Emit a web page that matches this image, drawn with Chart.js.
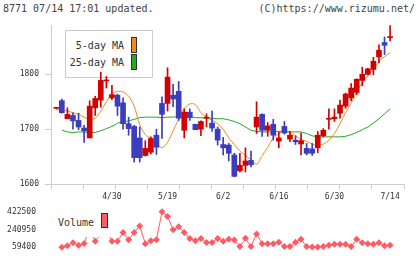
<!DOCTYPE html>
<html><head><meta charset="utf-8">
<script src="https://cdn.jsdelivr.net/npm/chart.js@4/dist/chart.umd.min.js"></script>
<style>
body{margin:0;background:#fff;width:420px;height:259px;overflow:hidden;position:relative;font-family:"DejaVu Sans Mono",monospace;color:#444}
.t{position:absolute;font-size:10px;line-height:12px;white-space:pre}
canvas{position:absolute;left:0}
</style></head><body>
<div class="t" style="left:3px;top:3px">8771 07/14 17:01 updated.</div>
<div class="t" style="right:5px;top:3px">(C)https://www.rizumu.net/</div>
<div style="position:absolute;left:65px;top:30px;width:86px;height:46px;border:1px solid #ccc;background:#fff"></div>
<div class="t" style="right:296px;top:40px;color:#333">5-day MA</div>
<div class="t" style="right:296px;top:57px;color:#333">25-day MA</div>
<div style="position:absolute;left:131px;top:37px;width:4px;height:14px;border:1px solid #333;background:#f08c1a"></div>
<div style="position:absolute;left:131px;top:54px;width:4px;height:14px;border:1px solid #333;background:#22aa22"></div>
<canvas id="main" width="420" height="205" style="top:0;z-index:1"></canvas>
<canvas id="vol" width="420" height="59" style="top:200px;z-index:1"></canvas>
<div style="position:absolute;left:55px;top:206px;width:57px;height:31px;background:#fff;z-index:2"></div>
<div class="t" style="left:58px;top:217px;color:#333;z-index:3">Volume</div>
<div style="position:absolute;left:101px;top:213px;width:5px;height:13px;border:1px solid #333;background:#ff5b63;z-index:3"></div>
<script>
const dates=['4/15','4/16','4/17','4/18','4/21','4/22','4/23','4/24','4/25','4/28',
'4/30','5/1','5/7','5/8','5/9','5/12','5/13','5/14','5/15','5/16',
'5/19','5/20','5/21','5/22','5/23','5/26','5/27','5/28','5/29','5/30',
'6/2','6/3','6/4','6/5','6/6','6/9','6/10','6/11','6/12','6/13',
'6/16','6/17','6/18','6/19','6/20','6/23','6/24','6/25','6/26','6/27',
'6/30','7/1','7/2','7/3','7/4','7/7','7/8','7/9','7/10','7/11','7/14'];
const xLabels=['4/30','5/19','6/2','6/16','6/30','7/14'];
const priceTicks=[1600,1700,1800];
const volTicks=[59400,240950,422500];

const open=[1738,1752,1719,1725,1716,1702,1684,1739,1753,1788,
1757,1762,1748,1710,1705,1684,1652,1658,1689,1747,
1747,1762,1769,1698,1731,1709,1700,1720,1711,1700,
1672,1671,1653,1624,1634,1643,1704,1727,1698,1709,
1678,1705,1682,1680,1673,1665,1664,1666,1688,1718,
1719,1729,1742,1757,1767,1789,1800,1809,1832,1858,1867];
const high=[1739,1755,1739,1730,1729,1707,1752,1760,1804,1796,
1780,1764,1757,1722,1707,1704,1679,1686,1700,1759,
1812,1782,1787,1737,1737,1709,1715,1728,1733,1704,
1685,1674,1656,1656,1666,1660,1750,1728,1712,1718,
1695,1714,1696,1688,1693,1674,1674,1696,1701,1737,
1737,1753,1766,1783,1792,1813,1811,1831,1854,1868,1889];
const low=[1737,1729,1719,1700,1699,1676,1684,1725,1740,1775,
1754,1725,1700,1689,1640,1640,1651,1655,1654,1683,
1733,1741,1716,1684,1716,1699,1688,1704,1696,1671,
1653,1642,1613,1622,1622,1631,1692,1687,1687,1680,
1666,1691,1677,1672,1653,1653,1652,1657,1686,1700,
1714,1720,1738,1752,1763,1779,1799,1799,1821,1836,1861];
const close=[1738,1730,1727,1715,1704,1697,1742,1756,1789,1788,
1763,1742,1710,1701,1648,1648,1665,1683,1667,1727,
1795,1755,1720,1731,1721,1699,1714,1722,1702,1680,
1666,1656,1614,1634,1642,1635,1722,1698,1706,1689,
1684,1693,1689,1677,1679,1656,1656,1689,1698,1719,
1722,1744,1764,1775,1791,1800,1810,1824,1844,1853,1868];
const ma5=[1736,1735,1733,1730,1727,1722,1718,1720,1733,1750,
1764,1769,1768,1760,1742,1708,1690,1683,1674,1666,
1676,1697,1718,1738,1746,1745,1730,1722,1716,1710,
1700,1684,1672,1660,1652,1644,1636,1652,1667,1684,
1692,1696,1693,1688,1681,1678,1673,1670,1673,1680,
1692,1710,1730,1748,1768,1785,1797,1810,1824,1832,1840];
const ma25=[null,1698,1695,1694,1695,1695,1694,1694,1697,1701,
1705,1711,1713,1715,1718,1721,1722,1722,1722,1721,
1722,1722,1723,1723,1723,1721,1721,1720,1720,1719,
1719,1717,1714,1710,1704,1698,1696,1695,1695,1695,
1696,1696,1695,1695,1695,1692,1688,1686,1686,1686,
1686,1686,1687,1690,1694,1699,1704,1711,1719,1728,1737];
const volume=[null,59400,74800,104800,80300,98400,250000,120200,195000,243000,
120200,120200,211000,134700,211000,277300,95700,125700,134700,422500,
374400,238200,268200,211000,147400,125700,147400,107500,107500,147400,
120200,141100,132000,65700,150200,65700,195600,95700,95700,95700,
111100,65700,65700,111100,141100,65700,60500,60500,65700,80300,
89400,89400,89400,65700,141100,104800,95700,89400,104800,74800,80300];

const RED='#d40000',BLUE='#3c3cbe',ORANGE='#f08c1a',GREEN='#22aa22',VOL='#ff5b63';
const FONT={family:'DejaVu Sans Mono',size:8};
const colors=close.map((c,i)=>c>=open[i]?RED:BLUE);
const pts=a=>a.map((v,i)=>({x:i,y:v}));
const xMin=-0.95,xMax=62.5;

new Chart(document.getElementById('main'),{
  data:{datasets:[
    {type:'line',xAxisID:'x',data:pts(ma25),borderColor:GREEN,borderWidth:1,pointRadius:0,order:4},
    {type:'line',xAxisID:'x',data:pts(ma5),borderColor:ORANGE,borderWidth:1,pointRadius:0,tension:0.3,order:3},
    {type:'bar',xAxisID:'x',data:low.map((l,i)=>({x:i,y:[l,high[i]]})),backgroundColor:colors,barThickness:1,grouped:false,order:2},
    {type:'bar',xAxisID:'x',data:open.map((o,i)=>({x:i,y:[o,close[i]]})),backgroundColor:colors,barThickness:5,minBarLength:1,grouped:false,order:1}
  ]},
  options:{
    responsive:false,animation:false,devicePixelRatio:1,
    layout:{padding:{top:25,right:16,left:0,bottom:0}},
    plugins:{legend:{display:false},tooltip:{enabled:false}},
    scales:{
      xt:{type:'linear',position:'bottom',weight:0,min:0,max:11,offset:false,
        ticks:{display:false,stepSize:1},
        grid:{drawOnChartArea:false,tickLength:5,color:'#ccc',offset:false},
        border:{color:'#ccc'},
        afterFit:s=>{s.height=5;}},
      x:{type:'linear',position:'bottom',weight:1,min:xMin,max:xMax,offset:false,
        grid:{display:false,drawTicks:false,offset:false},border:{display:false},
        ticks:{stepSize:10,includeBounds:false,padding:3,maxRotation:0,autoSkip:false,font:FONT,color:'#333',
          callback:v=>xLabels.includes(dates[v])?dates[v]:''},
        afterFit:s=>{s.height=16;}},
      y:{type:'linear',position:'left',min:1600,max:1890,
        afterBuildTicks:s=>{s.ticks=priceTicks.map(v=>({value:v}));},
        ticks:{padding:6,font:FONT,color:'#333',callback:v=>String(v)},
        grid:{drawOnChartArea:false,tickLength:6,color:'#ccc'},
        border:{color:'#ccc'},
        afterFit:s=>{s.width=51;}}
    }
  }
});

new Chart(document.getElementById('vol'),{
  type:'line',
  data:{datasets:[{data:pts(volume),borderColor:VOL,borderWidth:1,
    pointStyle:'rectRot',pointRadius:3.5,pointBackgroundColor:VOL,pointBorderWidth:0,clip:false}]},
  options:{
    responsive:false,animation:false,devicePixelRatio:1,
    layout:{padding:{top:9,right:16,left:0,bottom:10}},
    plugins:{legend:{display:false},tooltip:{enabled:false}},
    scales:{
      x:{type:'linear',min:xMin,max:xMax,display:false},
      y:{min:59400,max:422500,
        afterBuildTicks:s=>{s.ticks=volTicks.map(v=>({value:v}));},
        ticks:{padding:7,font:FONT,color:'#333',callback:v=>String(v)},
        grid:{display:false},border:{display:false},
        afterFit:s=>{s.width=51;}}
    }
  }
});
</script>
</body></html>
